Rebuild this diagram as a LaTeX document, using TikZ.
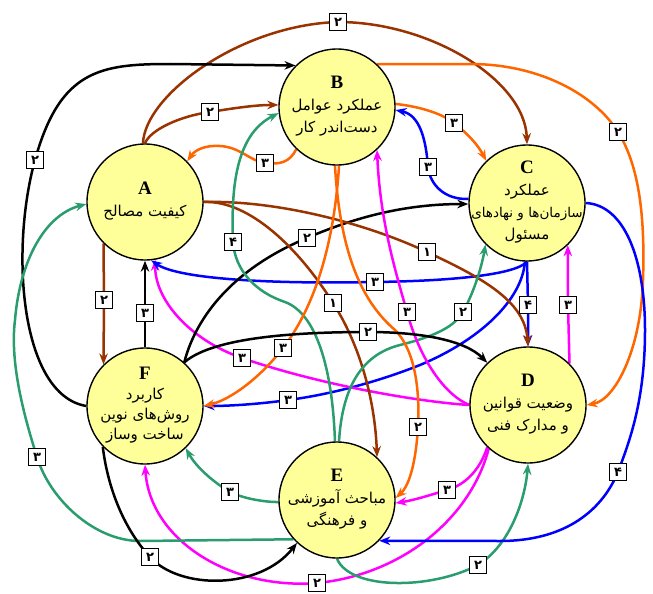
\documentclass[tikz,border=0pt]{standalone}
\usepackage{fontspec}
\setmainfont{Liberation Serif}
\newfontfamily\fa[Script=Arabic]{DejaVu Sans}
\TeXXeTstate=1
\usetikzlibrary{arrows.meta}
\pgfdeclarelayer{edges}
\pgfsetlayers{edges,main}
\definecolor{cbrown}{HTML}{993300}
\definecolor{corange}{HTML}{FF6600}
\definecolor{cblue}{HTML}{0000FF}
\definecolor{cgreen}{HTML}{2A9D6F}
\definecolor{cmag}{HTML}{FF00FF}
\definecolor{cyel}{HTML}{FFFF99}
\newcommand{\rl}[1]{{\fa\beginR #1\endR}}
\newcommand{\ltr}[1]{{\bfseries\fontsize{19}{19}\selectfont #1}}
% text block of fixed (zero) size so the circles keep one size
\newcommand{\ctext}[1]{\makebox[0pt]{\raisebox{-3pt}[0pt][0pt]{\setlength{\tabcolsep}{0pt}\begin{tabular}{c}#1\end{tabular}}}}
\tikzset{
  circ/.style={circle, draw=black, line width=1.4pt, fill=cyel, minimum size=116pt,
    inner sep=0pt, font=\fontsize{15}{22}\selectfont},
  lbl/.style={draw=black, fill=white, line width=1.5pt, minimum size=17pt,
    inner sep=0pt, font=\fa\bfseries\fontsize{13}{13}\selectfont},
  con/.style={line width=2.5pt, -{Stealth[length=11pt,width=8.5pt]}},
}
\begin{document}
\begin{tikzpicture}[x=1pt,y=-1pt]
\path[use as bounding box] (0,0) rectangle (653,594);
% circles
\node[circ] (A) at (145,202) {\ctext{\ltr{A}\\\rl{کیفیت مصالح}}};
\node[circ] (B) at (337,107) {\ctext{\ltr{B}\\\rl{عملکرد عوامل}\\\rl{دست‌اندر کار}}};
\node[circ] (C) at (527,203) {\ctext{\ltr{C}\\\rl{عملکرد}\\{\fontsize{13.5}{22}\selectfont\rl{سازمان‌ها و نهادهای}}\\\rl{مسئول}}};
\node[circ] (D) at (528,405) {\ctext{\ltr{D}\\\rl{وضعیت قوانین}\\\rl{و مدارک فنی}}};
\node[circ] (E) at (337,500) {\ctext{\ltr{E}\\\rl{مباحث آموزشی}\\\rl{و فرهنگی}}};
\node[circ] (F) at (145,406) {\ctext{\ltr{F}\\[-2pt]\rl{کاربرد}\\[-2pt]\rl{روش‌های نوین}\\[-2pt]\rl{ساخت وساز}}};
% labels
\node[lbl] (l1) at (338,22) {۲};
\node[lbl] (l2) at (35,160) {۲};
\node[lbl] (l3) at (210,112) {۲};
\node[lbl] (l4) at (265,163) {۳};
\node[lbl] (l5) at (618,132) {۲};
\node[lbl] (l6) at (454,123) {۳};
\node[lbl] (l7) at (428,167) {۳};
\node[lbl] (l8) at (307,238) {۲};
\node[lbl] (l9) at (427,252) {۱};
\node[lbl] (l10) at (333,303) {۱};
\node[lbl] (l11) at (233,242) {۴};
\node[lbl] (l12) at (463,312) {۲};
\node[lbl] (l13) at (375,282) {۳};
\node[lbl] (l14) at (528,305) {۴};
\node[lbl] (l15) at (288,400) {۳};
\node[lbl] (l16) at (283,348) {۳};
\node[lbl] (l17) at (418,427) {۲};
\node[lbl] (l18) at (407,312) {۳};
\node[lbl] (l19) at (242,358) {۳};
\node[lbl] (l20) at (145,313) {۳};
\node[lbl] (l21) at (104,300) {۲};
\node[lbl] (l22) at (368,332) {۲};
\node[lbl] (l23) at (447,490) {۳};
\node[lbl] (l24) at (317,583) {۲};
\node[lbl] (l25) at (568,305) {۳};
\node[lbl] (l26) at (230,492) {۳};
\node[lbl] (l27) at (37,457) {۳};
\node[lbl] (l28) at (150,557) {۲};
\node[lbl] (l29) at (478,565) {۲};
\node[lbl] (l30) at (618,472) {۴};
\begin{pgfonlayer}{edges}
% edges whose arrowheads lie under others
\draw[con,cblue] (C.270) -- (l14.center) -- (D.90);
\draw[con,cblue] (C.268) .. controls (522,300) and (480,340) .. (420,365) .. controls (370,385) and (320,396) .. (l15.center) .. controls (260,404) and (230,406) .. (F.0);
\draw[con,cmag] (D.180) .. controls (420,402) and (320,385) .. (l19.center) .. controls (190,340) and (155,300) .. (A.280);
\draw[con,cblue] (C.270) .. controls (515,275) and (450,281) .. (l13.center) .. controls (280,284) and (180,280) .. (A.276);
% others
\draw[con,cbrown] (A.92) .. controls (145,95) and (240,25) .. (l1.center) .. controls (430,22) and (525,80) .. (C.90);
\draw[con,black] (F.180) .. controls (20,395) and (10,250) .. (l2.center) .. controls (60,70) and (100,64) .. (170,64) -- (B.135);
\draw[con,cbrown] (A.90) .. controls (150,130) and (180,116) .. (l3.center) .. controls (235,108) and (255,105) .. (B.178);
\draw[con,corange] (B.226) .. controls (290,162) and (280,165) .. (l4.center) .. controls (250,161) and (240,147) .. (220,146) .. controls (205,145) and (195,150) .. (A.44);
\draw[con,corange] (B.47) -- (470,64) .. controls (540,64) and (595,95) .. (l5.center) .. controls (640,167) and (645,220) .. (643,280) .. controls (641,350) and (615,400) .. (D.0);
\draw[con,corange] (B.3) .. controls (415,106) and (440,112) .. (l6.center) .. controls (468,134) and (478,145) .. (C.134);
\draw[con,cblue] (C.176) .. controls (445,200) and (430,185) .. (l7.center) .. controls (426,140) and (420,115) .. (B.357);
\draw[con,black] (F.48) .. controls (195,320) and (230,270) .. (l8.center) .. controls (360,215) and (410,204) .. (C.181);
\draw[con,cbrown] (A.0) .. controls (280,200) and (370,225) .. (l9.center) .. controls (480,277) and (525,300) .. (D.90);
\draw[con,cbrown] (A.0) .. controls (250,200) and (300,250) .. (l10.center) .. controls (360,345) and (375,400) .. (E.47);
\draw[con,cgreen] (E.92) .. controls (333,380) and (320,315) .. (285,302) .. controls (255,292) and (235,270) .. (l11.center) .. controls (231,190) and (235,135) .. (B.186);
\draw[con,cgreen] (E.88) .. controls (342,390) and (360,355) .. (400,345) .. controls (440,335) and (455,325) .. (l12.center) .. controls (475,290) and (482,265) .. (C.225);
\draw[con,corange] (B.272) .. controls (335,230) and (320,300) .. (l16.center) .. controls (260,378) and (230,400) .. (F.0);
\draw[con,corange] (B.268) .. controls (340,250) and (360,300) .. (395,330) .. controls (415,350) and (420,390) .. (l17.center) .. controls (416,460) and (410,485) .. (E.2);
\draw[con,cmag] (D.180) .. controls (445,395) and (420,360) .. (l18.center) .. controls (395,270) and (380,220) .. (B.313);
\draw[con,black] (F.90) -- (l20.center) -- (A.270);
\draw[con,cbrown] (A.225) -- (l21.center) -- (F.135);
\draw[con,black] (F.48) .. controls (210,340) and (280,332) .. (l22.center) .. controls (420,332) and (465,340) .. (D.134);
\draw[con,cmag] (D.226) .. controls (480,470) and (465,485) .. (l23.center) .. controls (430,495) and (415,500) .. (E.357);
\draw[con,cmag] (D.228) .. controls (470,520) and (400,575) .. (l24.center) .. controls (230,590) and (150,540) .. (F.270);
\draw[con,cmag] (D.45) -- (l25.center) -- (C.314);
\draw[con,cgreen] (E.182) .. controls (260,502) and (240,497) .. (l26.center) .. controls (210,480) and (195,465) .. (F.314);
\draw[con,cgreen] (E.222) -- (140,541) .. controls (95,541) and (50,500) .. (l27.center) .. controls (22,410) and (10,360) .. (15,320) .. controls (20,260) and (45,215) .. (A.182);
\draw[con,black] (F.224) .. controls (108,490) and (125,530) .. (l28.center) .. controls (180,590) and (260,590) .. (E.227);
\draw[con,cgreen] (E.270) .. controls (350,590) and (430,590) .. (l29.center) .. controls (510,545) and (525,500) .. (D.270);
\draw[con,cblue] (C.0) .. controls (625,205) and (645,260) .. (645,330) .. controls (645,400) and (630,440) .. (l30.center) .. controls (600,515) and (560,541) .. (500,541) -- (E.316);
\end{pgfonlayer}
\end{tikzpicture}
\end{document}
